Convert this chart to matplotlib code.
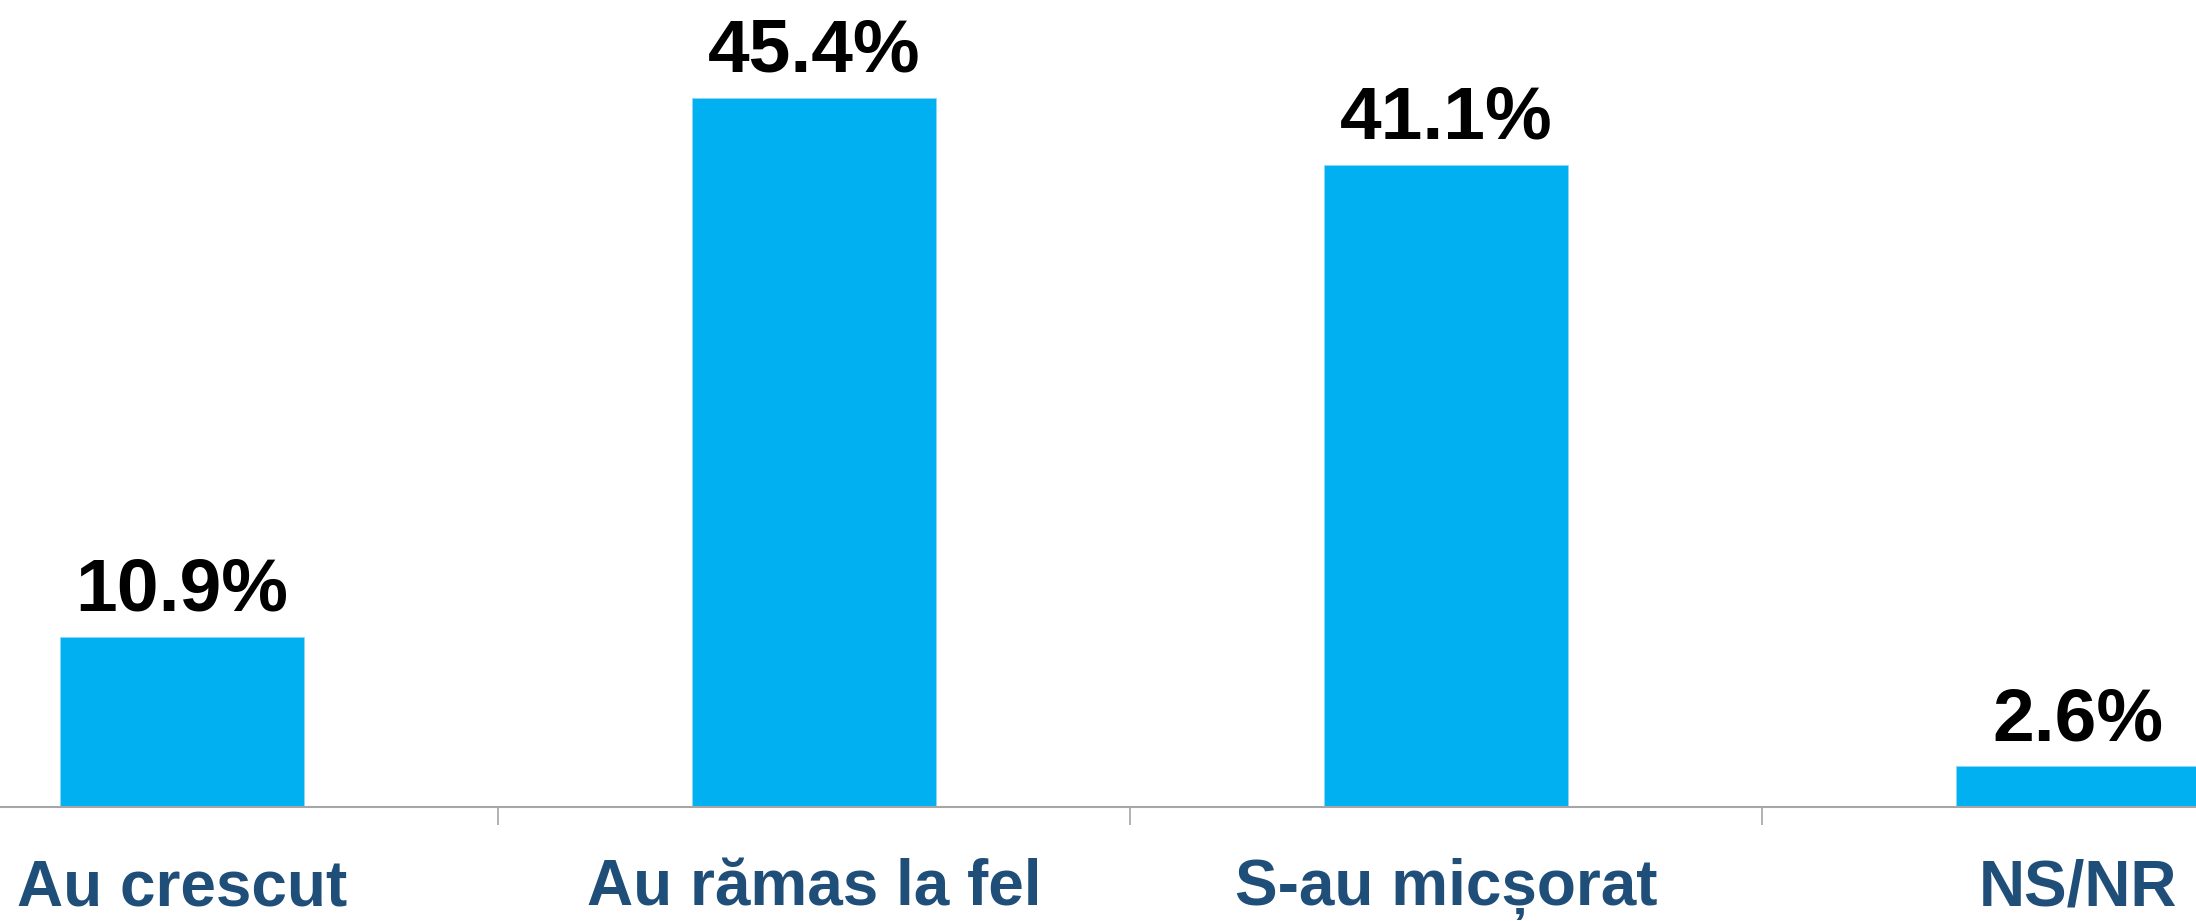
import matplotlib
matplotlib.use('Agg')
import matplotlib.pyplot as plt

## ::: Data ::: ##
categories = ['Au crescut', 'Au rămas la fel', 'S-au micșorat', 'NS/NR']
values = [10.9, 45.4, 41.1, 2.6]

bar_color = '#00B0F0'
label_color = '#1F4E79'
axis_color = '#A6A6A6'

plt.rcParams['font.family'] = ['Liberation Sans', 'DejaVu Sans']

## ::: Figure ::: ##
fig = plt.figure(figsize=(21.96, 9.21), dpi=100)
ax = fig.add_axes([0, 0.1238, 1, 0.8762])

x = range(len(categories))
ax.bar(x, values, width=0.385, color=bar_color, edgecolor='#8FD8F5', linewidth=0.6, zorder=2)

ax.set_xlim(-0.288, 3.187)
ax.set_ylim(0, 51.66)

# -> value labels above bars
for i, v in enumerate(values):
    ax.annotate(f'{v:.1f}%', xy=(i, v), xytext=(0, 18.7), textcoords='offset points',
                ha='center', va='baseline', fontsize=54, fontweight='bold', color='black')

# -> category labels below axis
for i, c in enumerate(categories):
    ax.annotate(c, xy=(i, 0), xycoords=('data', 'axes fraction'), xytext=(0, -70.6),
                textcoords='offset points', ha='center', va='baseline',
                fontsize=46, fontweight='bold', color=label_color, annotation_clip=False)

# -> axis styling
for side in ['top', 'right', 'left']:
    ax.spines[side].set_visible(False)
ax.spines['bottom'].set_color(axis_color)
ax.spines['bottom'].set_linewidth(1.5)
ax.set_yticks([])
ax.set_xticks([0.5, 1.5, 2.5])
ax.set_xticklabels([])
ax.tick_params(axis='x', direction='out', length=13, width=1.2, color=axis_color)

fig.savefig('out.png', dpi=100)
